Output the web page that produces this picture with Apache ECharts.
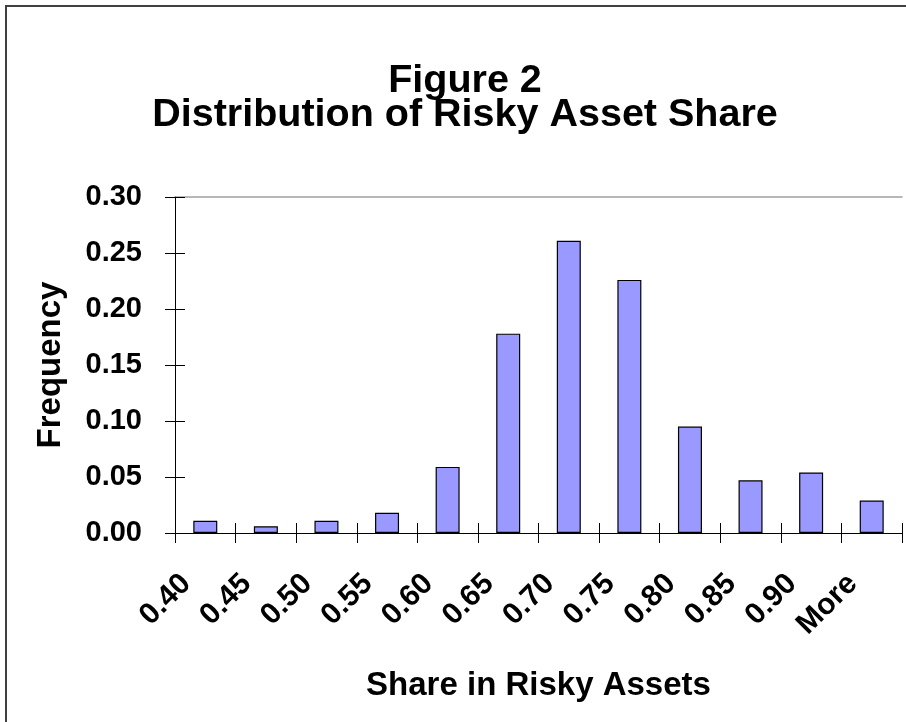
<!DOCTYPE html>
<html>
<head>
<meta charset="utf-8">
<script src="https://cdn.jsdelivr.net/npm/echarts@6/dist/echarts.min.js"></script>
<style>
html,body{margin:0;padding:0;background:#fff;}
#chart{width:906px;height:722px;}
</style>
</head>
<body>
<div id="chart"></div>
<script>
// Data
const categories = ['0.40','0.45','0.50','0.55','0.60','0.65','0.70','0.75','0.80','0.85','0.90','More'];
const frequency = [0.011, 0.006, 0.011, 0.018, 0.059, 0.178, 0.261, 0.226, 0.095, 0.047, 0.054, 0.029];
const yTicks = { min: 0, max: 0.30, interval: 0.05 };
const titleLines = ['Figure 2', 'Distribution of Risky Asset Share'];
const xName = 'Share in Risky Assets';
const yName = 'Frequency';

const FONT = '"Liberation Sans", Arial, sans-serif';
const chart = echarts.init(document.getElementById('chart'), null, { renderer: 'canvas' });

const baseY = {
  type: 'value', min: yTicks.min, max: yTicks.max, interval: yTicks.interval,
  position: 'left',
  axisLine: { show: true, lineStyle: { color: '#000', width: 1 } },
  splitLine: { show: false }
};
const baseX = {
  type: 'category', data: categories, position: 'bottom',
  axisLine: { show: true, lineStyle: { color: '#000', width: 1 } },
  splitLine: { show: false }
};

chart.setOption({
  animation: false,
  backgroundColor: '#fff',
  title: {
    text: titleLines.join('\n'),
    left: 460, top: 59, textAlign: 'center',
    textStyle: { fontFamily: FONT, fontWeight: 'bold', fontSize: 39.5, lineHeight: 34, color: '#000' }
  },
  graphic: [{
    type: 'rect', shape: { x: 6, y: 6, width: 1200, height: 1200 },
    style: { fill: null, stroke: '#404040', lineWidth: 2 }, silent: true
  }],
  grid: { left: 175, top: 197, right: 4, bottom: 189, containLabel: false },
  xAxis: [
    Object.assign({}, baseX, {
      axisTick: { show: true, inside: false, length: 10, lineStyle: { color: '#000' } },
      axisLabel: {
        show: true, interval: 0, rotate: 45, margin: 27, padding: [0, 27, 0, 0],
        fontFamily: FONT, fontWeight: 'bold', fontSize: 30, color: '#000'
      },
      name: xName, nameLocation: 'middle', nameGap: 136,
      nameTextStyle: { fontFamily: FONT, fontWeight: 'bold', fontSize: 33, color: '#000' }
    }),
    Object.assign({}, baseX, {
      axisTick: { show: true, inside: true, length: 10, lineStyle: { color: '#000' } },
      axisLabel: { show: false }
    }),
    Object.assign({}, baseX, {
      position: 'top',
      axisLine: { show: true, lineStyle: { color: '#a0a0a0', width: 1.5 } },
      axisTick: { show: false }, axisLabel: { show: false }
    })
  ],
  yAxis: [
    Object.assign({}, baseY, {
      axisTick: { show: true, inside: false, length: 10, lineStyle: { color: '#000' } },
      axisLabel: {
        show: true, margin: 33, formatter: v => v.toFixed(2),
        fontFamily: FONT, fontWeight: 'bold', fontSize: 29, color: '#000'
      },
      name: yName, nameLocation: 'middle', nameGap: 108, nameRotate: 90,
      nameTextStyle: { fontFamily: FONT, fontWeight: 'bold', fontSize: 33, color: '#000' }
    }),
    Object.assign({}, baseY, {
      axisTick: { show: true, inside: true, length: 10, lineStyle: { color: '#000' } },
      axisLabel: { show: false }
    })
  ],
  series: [{
    type: 'bar', data: frequency, xAxisIndex: 0, yAxisIndex: 0,
    barWidth: 24,
    itemStyle: { color: '#9999FF', borderColor: '#000', borderWidth: 1.2 }
  }]
});
</script>
</body>
</html>
